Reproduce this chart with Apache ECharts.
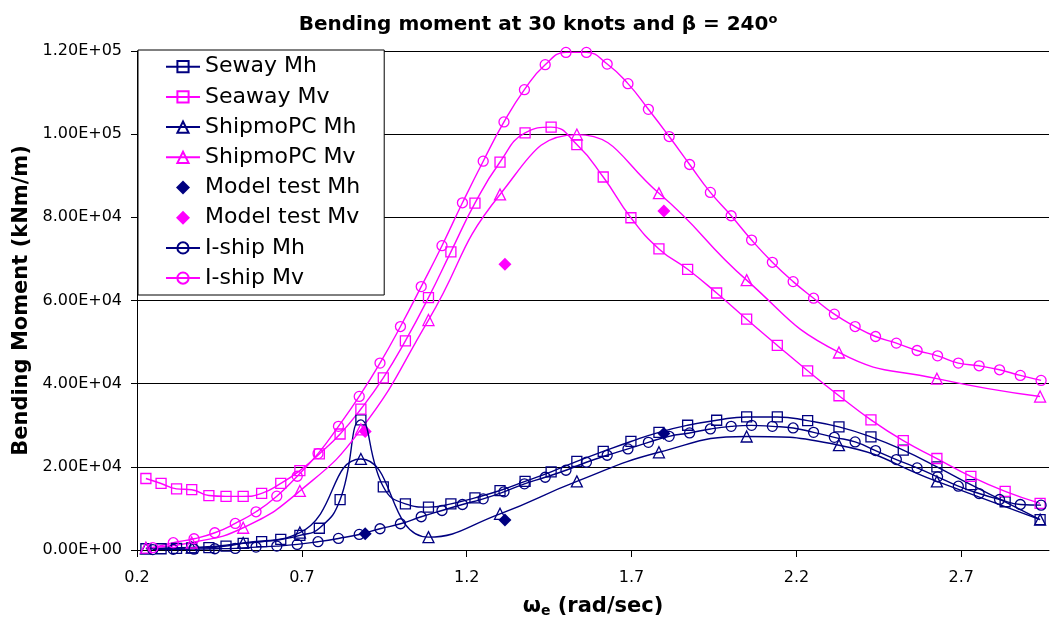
<!DOCTYPE html>
<html><head><meta charset="utf-8">
<script src="https://cdn.jsdelivr.net/npm/echarts@6/dist/echarts.min.js"></script>
<style>html,body{margin:0;padding:0;background:#fff}#c{width:1051px;height:629px}</style>
</head><body><div id="c"></div>
<script>
// ---- data ----
const seawayX = [0.227, 0.273, 0.320, 0.366, 0.418, 0.470, 0.522, 0.578, 0.636, 0.694, 0.753, 0.816, 0.879, 0.947, 1.014, 1.084, 1.152, 1.225, 1.301, 1.377, 1.456, 1.534, 1.614, 1.698, 1.783, 1.870, 1.958, 2.049, 2.142, 2.234, 2.329, 2.426, 2.524, 2.626, 2.729, 2.833, 2.939];
const seawayMh = [300, 300, 400, 500, 550, 940, 1580, 1990, 2540, 3500, 5230, 12100, 31300, 15200, 11100, 10300, 11100, 12550, 14300, 16500, 18800, 21300, 23700, 26100, 28300, 30000, 31200, 32000, 32000, 31100, 29600, 27200, 24000, 20000, 15700, 11600, 7300];
const seawayMv = [17200, 16000, 14700, 14500, 13100, 12900, 12900, 13600, 16000, 19100, 23100, 27900, 33900, 41400, 50300, 60700, 71700, 83400, 93300, 100300, 101700, 97500, 89700, 79900, 72400, 67500, 61800, 55500, 49200, 43100, 37100, 31300, 26300, 22000, 17700, 14100, 11200];

const shipmoX = [0.227, 0.366, 0.522, 0.694, 0.879, 1.084, 1.301, 1.534, 1.783, 2.049, 2.329, 2.626, 2.939];
const shipmoMh = [400, 600, 1700, 4200, 21900, 3100, 8700, 16500, 23500, 27300, 25200, 16500, 7300];
const shipmoMv = [550, 1800, 5350, 14200, 29000, 55300, 85500, 99900, 85800, 64900, 47500, 41200, 36900];

const modelX = [0.892, 1.316, 1.798];
const modelMh = [3900, 7200, 28000];
const modelMv = [28500, 68700, 81500];

const ishipX = [0.248, 0.310, 0.373, 0.436, 0.498, 0.561, 0.624, 0.686, 0.749, 0.811, 0.874, 0.937, 0.999, 1.062, 1.125, 1.187, 1.250, 1.313, 1.375, 1.438, 1.501, 1.563, 1.626, 1.689, 1.751, 1.814, 1.876, 1.939, 2.002, 2.064, 2.127, 2.190, 2.252, 2.315, 2.378, 2.440, 2.503, 2.566, 2.628, 2.691, 2.754, 2.816, 2.879, 2.942];
const ishipMh = [100, 150, 200, 300, 380, 700, 940, 1340, 1990, 2780, 3740, 5110, 6310, 7990, 9500, 10940, 12310, 13990, 15910, 17500, 19180, 21100, 22780, 24310, 25900, 27340, 28150, 29110, 29740, 29980, 29740, 29350, 28300, 27100, 25990, 23900, 21740, 19750, 17590, 15340, 13580, 12140, 10940, 10780];
const ishipMv = [550, 1750, 2710, 4150, 6380, 9190, 12940, 17740, 23180, 29740, 36940, 44950, 53740, 63340, 73180, 83500, 93500, 102940, 110710, 116710, 119660, 119660, 116860, 112150, 105980, 99430, 92710, 85990, 80380, 74540, 69190, 64540, 60550, 56710, 53740, 51340, 49750, 47980, 46700, 44950, 44300, 43340, 41980, 40780];

const xTicks = [0.2, 0.7, 1.2, 1.7, 2.2, 2.7];
const yTickLabels = ['0.00E+00', '2.00E+04', '4.00E+04', '6.00E+04', '8.00E+04', '1.00E+05', '1.20E+05'];
const seriesNames = ['Seway Mh', 'Seaway Mv', 'ShipmoPC Mh', 'ShipmoPC Mv', 'Model test Mh', 'Model test Mv', 'I-ship Mh', 'I-ship Mv'];

// ---- chart ----
const NAVY = '#000080', MAG = '#FF00FF';
const FONT = 'DejaVu Sans';
const DIAMOND = 'path://M0,-1L1,0L0,1L-1,0Z';
const pairs = (xs, ys) => xs.map((x, i) => [x, ys[i]]);
function lineSeries(name, xs, ys, color, symbol, size) {
  return {
    name, type: 'line', data: pairs(xs, ys), smooth: true, symbol, symbolSize: size,
    showSymbol: true, showAllSymbol: true, clip: true,
    itemStyle: { color: 'rgba(255,255,255,0)', borderColor: color, borderWidth: 1.3 },
    lineStyle: { color, width: 1.4 },
    emphasis: { disabled: true }
  };
}
function scatterSeries(name, xs, ys, color) {
  return { name, type: 'scatter', data: pairs(xs, ys), symbol: 'diamond', symbolSize: 13,
    itemStyle: { color, opacity: 1 }, emphasis: { disabled: true } };
}

const chart = echarts.init(document.getElementById('c'), null, { renderer: 'canvas' });
chart.setOption({
  backgroundColor: '#fff',
  animation: false,
  title: {
    text: 'Bending moment at 30 knots and β = 240{s|o}',
    left: 533, top: 8, textAlign: 'center',
    textStyle: { fontFamily: FONT, fontSize: 20, fontWeight: 'bold', color: '#000', lineHeight: 24,
      rich: { s: { fontFamily: FONT, fontSize: 13, fontWeight: 'bold', color: '#000', verticalAlign: 'top', lineHeight: 12 } } }
  },
  legend: {
    orient: 'vertical', left: 138, top: 50,
    padding: [4.7, 24, 4.9, 27], itemWidth: 34, itemHeight: 14, itemGap: 6.2,
    backgroundColor: '#fff', borderColor: '#000', borderWidth: 1,
    textStyle: { fontFamily: FONT, fontSize: 22, color: '#000', lineHeight: 24 },
    symbolKeepAspect: true,
    data: seriesNames.map(n => n.indexOf('Model') === 0 ? { name: n, icon: DIAMOND } : n),
    selectedMode: false
  },
  grid: { left: 137, right: 2, top: 51, bottom: 79, outerBoundsMode: 'none', containLabel: false },
  xAxis: {
    type: 'value', min: 0.2, max: 2.966, interval: 0.5,
    name: 'ω{sub|e} (rad/sec)', nameLocation: 'middle', nameGap: 46,
    nameTextStyle: { fontFamily: FONT, fontSize: 21, fontWeight: 'bold', color: '#000',
      rich: { sub: { fontFamily: FONT, fontSize: 14, fontWeight: 'bold', color: '#000', verticalAlign: 'bottom', padding: [8, 0, 0, 0] } } },
    axisLine: { show: true, onZero: false, lineStyle: { color: '#000', width: 1 } },
    axisTick: { show: true, inside: false, length: 7, customValues: xTicks, lineStyle: { color: '#000' } },
    axisLabel: { customValues: xTicks, margin: 20, fontFamily: FONT, fontSize: 16, color: '#000',
      formatter: v => String(Math.round(v * 10) / 10) },
    splitLine: { show: false }
  },
  yAxis: {
    type: 'value', min: 0, max: 120000, interval: 20000,
    name: 'Bending Moment (kNm/m)', nameLocation: 'middle', nameGap: 104, nameRotate: 90,
    nameTextStyle: { fontFamily: FONT, fontSize: 21, fontWeight: 'bold', color: '#000' },
    axisLine: { show: true, lineStyle: { color: '#000', width: 1 } },
    axisTick: { show: true, inside: false, length: 6, lineStyle: { color: '#000' } },
    axisLabel: { margin: 15, fontFamily: FONT, fontSize: 16, color: '#000',
      formatter: v => yTickLabels[Math.round(v / 20000)] },
    splitLine: { show: true, lineStyle: { color: '#000', width: 1 } }
  },
  series: [
    lineSeries(seriesNames[0], seawayX, seawayMh, NAVY, 'rect', 10),
    lineSeries(seriesNames[1], seawayX, seawayMv, MAG, 'rect', 10),
    lineSeries(seriesNames[2], shipmoX, shipmoMh, NAVY, 'triangle', 11),
    lineSeries(seriesNames[3], shipmoX, shipmoMv, MAG, 'triangle', 11),
    scatterSeries(seriesNames[4], modelX, modelMh, NAVY),
    scatterSeries(seriesNames[5], modelX, modelMv, MAG),
    lineSeries(seriesNames[6], ishipX, ishipMh, NAVY, 'circle', 10),
    lineSeries(seriesNames[7], ishipX, ishipMv, MAG, 'circle', 10)
  ]
});
</script>
</body></html>
